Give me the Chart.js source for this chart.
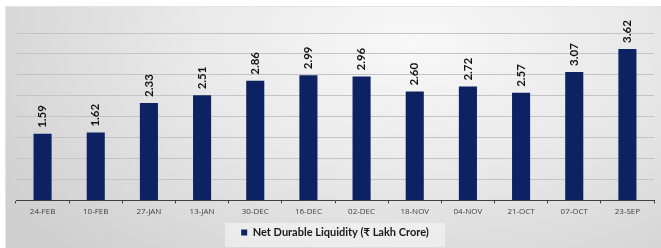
<!DOCTYPE html>
<html>
<head>
<meta charset="utf-8">
<script src="https://cdn.jsdelivr.net/npm/chart.js@4"></script>
<style>
  html, body { margin: 0; padding: 0; background: #fff; }
  .panel {
    position: absolute; left: 5px; top: 6px; width: 656px; height: 242px;
    background: radial-gradient(ellipse 75% 120% at 62% 15%, #f8f8f8 0%, #e9e9e9 45%, #cfcfcf 100%);
    border-top: 1px solid #e4e4e4; border-left: 1px solid #e4e4e4;
  }
  .legend-bg {
    position: absolute; left: 225px; top: 223px; width: 220px; height: 24px;
    background: rgba(255,255,255,0.45);
  }
  #wrap { position: absolute; left: 0; top: 0; width: 661px; height: 248px; }
</style>
</head>
<body>
<div class="panel"></div>
<div class="legend-bg"></div>
<div id="wrap"><canvas id="myChart"></canvas></div>
<script>
const dates = ["24-FEB", "10-FEB", "27-JAN", "13-JAN", "30-DEC", "16-DEC", "02-DEC", "18-NOV", "04-NOV", "21-OCT", "07-OCT", "23-SEP"];
const liquidity = [1.59, 1.62, 2.33, 2.51, 2.86, 2.99, 2.96, 2.60, 2.72, 2.57, 3.07, 3.62];
const seriesName = "Net Durable Liquidity (₹ Lakh Crore)";

// rotated value labels above each bar
const barLabels = {
  id: 'barLabels',
  afterDatasetsDraw(chart) {
    const ctx = chart.ctx;
    const meta = chart.getDatasetMeta(0);
    ctx.save();
    ctx.font = 'bold 11.5px Lato, "DejaVu Sans", sans-serif';
    ctx.fillStyle = '#111';
    ctx.textAlign = 'left';
    ctx.textBaseline = 'middle';
    meta.data.forEach((bar, i) => {
      ctx.save();
      ctx.translate(bar.x, bar.y - 6);
      ctx.rotate(-Math.PI / 2);
      ctx.fillText(liquidity[i].toFixed(2), 0, 0);
      ctx.restore();
    });
    ctx.restore();
  }
};

var ctx = document.getElementById("myChart").getContext("2d");

var myChart = new Chart(ctx, {
  type: "bar",
  data: {
    labels: dates,
    datasets: [{
      label: seriesName,
      data: liquidity,
      backgroundColor: "#0c2263",
      barPercentage: 0.34,
      categoryPercentage: 1
    }]
  },
  options: {
    responsive: true,
    maintainAspectRatio: false,
    animation: false,
    layout: { padding: { left: 16, right: 7, top: 33, bottom: 0 } },
    plugins: {
      tooltip: { enabled: false },
      legend: {
        position: 'bottom',
        labels: {
          boxWidth: 6, boxHeight: 6, padding: 6,
          color: '#1a1a1a',
          font: { family: 'Lato, "DejaVu Sans", sans-serif', size: 11, weight: 'bold' }
        }
      }
    },
    scales: {
      x: {
        grid: { offset: true, drawOnChartArea: false, drawTicks: true, tickLength: 3, color: '#404040' },
        border: { display: true, color: '#404040', width: 1 },
        ticks: {
          color: '#404040', padding: 4, maxRotation: 0,
          font: { family: '"Open Sans", "DejaVu Sans", sans-serif', size: 8 }
        }
      },
      y: {
        min: 0, max: 4,
        ticks: { display: false, stepSize: 0.5 },
        grid: { color: '#c4c4c4', drawTicks: false },
        border: { display: false }
      }
    }
  },
  plugins: [barLabels]
});
</script>
</body>
</html>
